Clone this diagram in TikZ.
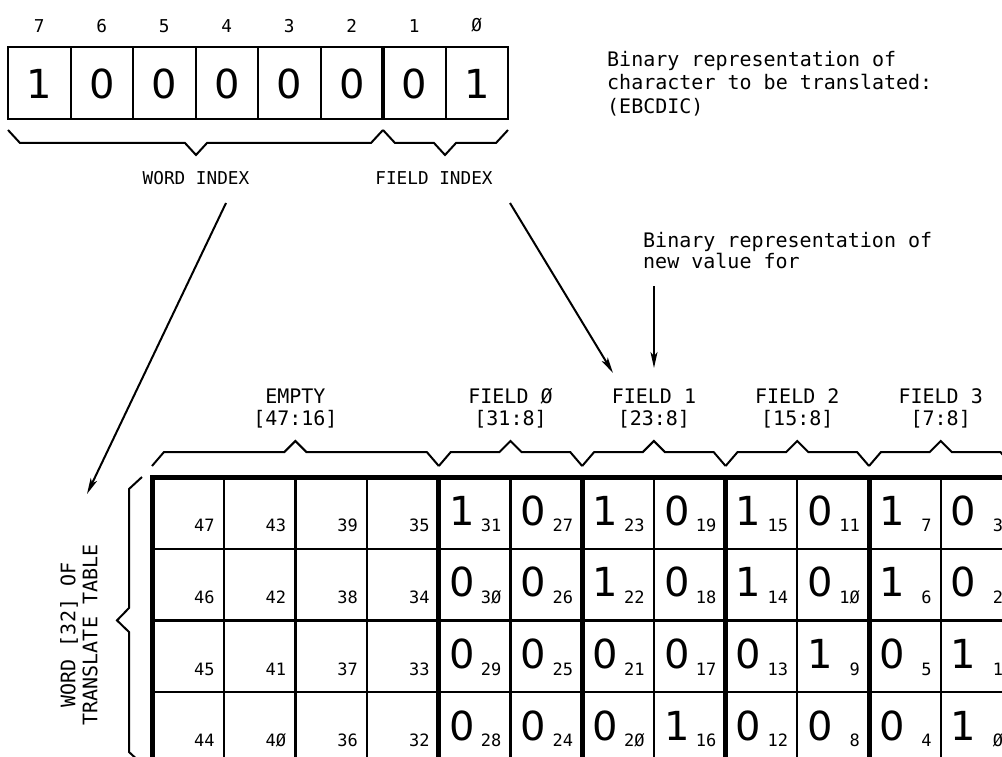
\documentclass[tikz,border=0pt]{standalone}
\usepackage{fontspec}
\setmonofont{DejaVu Sans Mono}
\newfontfamily\valfont{DejaVu Sans}
\usetikzlibrary{arrows.meta,positioning}

% bit number as printed, with slashed zeros
\newcommand\bitlabel[1]{%
  \pgfmathtruncatemacro\bittens{#1/10}%
  \pgfmathtruncatemacro\bitones{#1-10*\bittens}%
  \ifnum\bittens>0 \bittens\fi\ifnum\bitones=0 Ø\else\bitones\fi}

\begin{document}
\begin{tikzpicture}[x=1pt, y=-1pt,
    mono/.style={font=\ttfamily\fontsize{20}{22}\selectfont, inner sep=0pt},
    reglbl/.style={font=\ttfamily\fontsize{17.7}{20}\selectfont, inner sep=0pt},
    regcell/.style={draw, line width=2pt, minimum width=62.5pt, minimum height=72pt,
        inner sep=0pt, outer sep=0pt, font=\valfont\fontsize{40}{40}\selectfont},
    cell/.style={draw, line width=2.3pt, minimum size=71.7pt, inner sep=0pt, outer sep=0pt},
    bitval/.style={anchor=base, inner sep=0pt, font=\valfont\fontsize{40}{40}\selectfont},
    bitno/.style={anchor=base east, inner sep=0pt, font=\ttfamily\fontsize{17}{17}\selectfont},
    brc/.style={line width=2pt},
    heavy/.style={line width=5pt, line cap=rect},
    arr/.style={-{Stealth[length=16pt,width=7pt,inset=4pt]}, line width=2pt}
]
\path[use as bounding box] (0,0) rectangle (1002,757);
\clip (0,0) rectangle (1002,757);

% character register
\foreach \num/\b [count=\i from 0] in {7/1,6/0,5/0,4/0,3/0,2/0,1/0,Ø/1}{
  \node[regcell] (r\i) at ({39.25+62.5*\i},83.5) {\b};
  \node[reglbl, above=15pt of r\i] (n\i) {\num};
}
\draw[line width=4pt] (r5.north east) -- (r5.south east);

% index braces
\draw[brc] (8,130) -- (20,143) -- (185,143) -- (196,155) -- (207,143) -- (371,143) -- (383,130);
\draw[brc] (383,130) -- (395,143) -- (434,143) -- (445,155) -- (456,143) -- (496,143) -- (508,130);
\node[reglbl] (wordidx) at (196,178.5) {WORD INDEX};
\node[reglbl] (fieldidx) at (434,178.5) {FIELD INDEX};

\node[mono, font=\ttfamily\fontsize{20}{23.5}\selectfont, anchor=north west, align=left]
    (chardesc) at (607,51) {Binary representation of\\character to be translated:\\(EBCDIC)};
\node[mono, font=\ttfamily\fontsize{20}{21.6}\selectfont, anchor=north west, align=left]
    (newval) at (643,232) {Binary representation of\\new value for};

% translate table
\foreach \col in {0,...,11}
  \foreach \row in {0,...,3}{
    \node[cell] (c\row-\col) at ({187.85+71.7*\col},{512.85+71.7*\row}) {};
    \pgfmathtruncatemacro\bitnum{47-4*\col-\row}
    \node[bitno] at ([xshift=-9pt,yshift=17pt]c\row-\col.south east) {\bitlabel{\bitnum}};
  }
\foreach \col/\vals in {4/{1,0,0,0},5/{0,0,0,0},6/{1,1,0,0},7/{0,0,0,1},
                        8/{1,1,0,0},9/{0,0,1,0},10/{1,1,0,0},11/{0,0,1,1}}
  \foreach \val [count=\row from 0] in \vals
    \node[bitval] at ([xshift=23pt,yshift=-48pt]c\row-\col.north west) {\val};

\draw[heavy] (c0-0.north west) -- (c0-11.north east);
\foreach \col in {0,4,6,8,10}
  \draw[heavy] (c0-\col.north west) -- (c3-\col.south west);

% field braces
\foreach \a/\b/\txt [count=\i] in {152/438.8/{EMPTY\\{}[47:16]}, 438.8/582.2/{FIELD Ø\\{}[31:8]},
    582.2/725.6/{FIELD 1\\{}[23:8]}, 725.6/869/{FIELD 2\\{}[15:8]}, 869/1012.4/{FIELD 3\\{}[7:8]}}{
  \draw[brc] (\a,466) -- (\a+12,452) -- ({(\a+\b)/2-11},452) -- ({(\a+\b)/2},441)
      -- ({(\a+\b)/2+11},452) -- (\b-12,452) -- (\b,466);
  \node[mono, align=center, anchor=south] (fld\i) at ({(\a+\b)/2},428) {\txt};
}

% word brace
\draw[brc] (142,477) -- (129,489) -- (129,608) -- (117,620.4) -- (129,632) -- (129,752) -- (142,764);
\node[mono, rotate=90, align=center] (wordlbl) at (79,635) {WORD [32] OF\\TRANSLATE TABLE};

% arrows
\coordinate (wfrom) at (226,203);
\coordinate (wto) at (87,494);
\coordinate (ffrom) at (510,203);
\coordinate (fto) at (613,373);
\coordinate (nfrom) at (654,286);
\coordinate (nto) at (654,368);
\draw[arr] (wfrom) -- (wto);
\draw[arr] (ffrom) -- (fto);
\draw[arr] (nfrom) -- (nto);
\end{tikzpicture}
\end{document}
